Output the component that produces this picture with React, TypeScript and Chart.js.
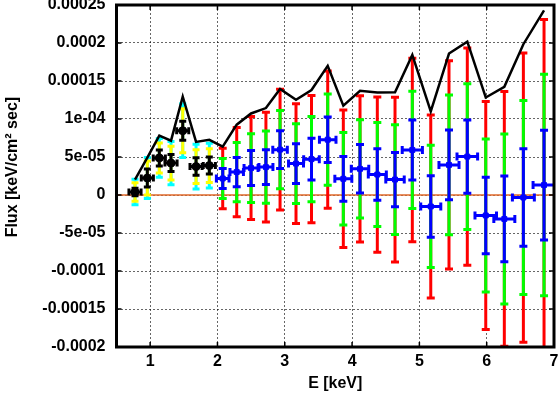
import React, { useEffect, useRef } from 'react';
import { Chart, registerables } from 'chart.js';
Chart.register(...registerables);

// ---- data (flux in keV/cm^2/sec, energies in keV) ----
const blackE = [0.775, 0.958, 1.136, 1.31, 1.484, 1.682, 1.879];
const blackXErr = [0.09, 0.09, 0.09, 0.09, 0.09, 0.09, 0.09];
const blackFlux = [0.39e-5, 2.23e-5, 4.88e-5, 4.2e-5, 8.46e-5, 3.74e-5, 3.87e-5];
const blackErr1 = [0.49e-5, 1.18e-5, 1.05e-5, 1.12e-5, 1.25e-5, 1.15e-5, 1.12e-5];
const yellowErr2 = [1.21e-5, 2.23e-5, 1.97e-5, 2.23e-5, 2.89e-5, 2.23e-5, 2.23e-5];
const cyanErr3 = [1.68e-5, 2.69e-5, 2.56e-5, 2.85e-5, 3.54e-5, 2.95e-5, 2.95e-5];

const blueE = [2.078, 2.286, 2.499, 2.72, 2.93, 3.167, 3.397, 3.638, 3.87, 4.118, 4.375, 4.638, 4.895, 5.169, 5.44, 5.712, 5.986, 6.262, 6.545, 6.852];
const blueXErr = [0.094, 0.1, 0.104, 0.104, 0.108, 0.111, 0.116, 0.123, 0.126, 0.13, 0.134, 0.137, 0.15, 0.149, 0.149, 0.153, 0.16, 0.156, 0.163, 0.163];
const blueFlux = [2.17e-5, 3.02e-5, 3.54e-5, 3.67e-5, 5.97e-5, 4.13e-5, 4.72e-5, 7.28e-5, 2.13e-5, 3.44e-5, 2.69e-5, 2.03e-5, 5.93e-5, -1.51e-5, 3.96e-5, 5.05e-5, -2.69e-5, -3.15e-5, -0.33e-5, 1.31e-5];
const blueErr1 = [1.31e-5, 1.93e-5, 2.3e-5, 2.3e-5, 2.47e-5, 2.62e-5, 2.76e-5, 2.99e-5, 2.95e-5, 3.19e-5, 3.39e-5, 3.57e-5, 3.94e-5, 4.04e-5, 4.59e-5, 4.82e-5, 5.03e-5, 5.64e-5, 6.4e-5, 7.22e-5];
const greenErr2 = [2.62e-5, 3.9e-5, 4.53e-5, 4.76e-5, 5.14e-5, 5.25e-5, 5.6e-5, 6.01e-5, 6.08e-5, 6.46e-5, 6.85e-5, 7.22e-5, 7.72e-5, 8.04e-5, 9.19e-5, 9.58e-5, 10.07e-5, 11.19e-5, 12.77e-5, 14.57e-5];
const redErr3 = [3.98e-5, 5.87e-5, 6.78e-5, 7.22e-5, 7.94e-5, 7.87e-5, 8.36e-5, 9.02e-5, 9.05e-5, 9.62e-5, 10.21e-5, 10.83e-5, 12.07e-5, 12.03e-5, 13.71e-5, 14.28e-5, 15.0e-5, 16.76e-5, 19.03e-5, 21.78e-5];

const limitE = [...blackE, ...blueE];
const limitFlux = [2.03e-5, 4.92e-5, 7.81e-5, 7.15e-5, 12.93e-5, 6.98e-5, 7.26e-5,
  6.36e-5, 9.25e-5, 10.73e-5, 11.44e-5, 13.94e-5, 12.53e-5, 13.81e-5, 16.99e-5, 11.75e-5, 13.71e-5, 13.49e-5, 13.52e-5, 18.44e-5, 11.0e-5, 18.61e-5, 20.18e-5, 12.83e-5, 14.24e-5, 19.84e-5, 24.3e-5];

const xTickValues = [1, 2, 3, 4, 5, 6, 7];
const yTickValues = [0.00025, 0.0002, 0.00015, 0.0001, 0.00005, 0, -0.00005, -0.0001, -0.00015, -0.0002];
const yTickLabels = ['0.00025', '0.0002', '0.00015', '1e-04', '5e-05', '0', '-5e-05', '-0.0001', '-0.00015', '-0.0002'];

const FONT = "'Liberation Sans', Arial, Helvetica, sans-serif";

function drawV(ctx: CanvasRenderingContext2D, xs: any, ys: any, E: number[], v: number[], e: number[], color: string, lw: number, cap: number) {
  ctx.strokeStyle = color;
  ctx.lineWidth = lw;
  ctx.lineCap = 'butt';
  for (let i = 0; i < E.length; i++) {
    const px = xs.getPixelForValue(E[i]);
    const t = ys.getPixelForValue(v[i] + e[i]);
    const b = ys.getPixelForValue(v[i] - e[i]);
    ctx.beginPath();
    ctx.moveTo(px, t); ctx.lineTo(px, b);
    ctx.moveTo(px - cap, t); ctx.lineTo(px + cap, t);
    ctx.moveTo(px - cap, b); ctx.lineTo(px + cap, b);
    ctx.stroke();
  }
}

function drawH(ctx: CanvasRenderingContext2D, xs: any, ys: any, E: number[], v: number[], xe: number[], color: string, lw: number, cap: number) {
  ctx.strokeStyle = color;
  ctx.lineWidth = lw;
  for (let i = 0; i < E.length; i++) {
    const py = ys.getPixelForValue(v[i]);
    const l = xs.getPixelForValue(E[i] - xe[i]);
    const r = xs.getPixelForValue(E[i] + xe[i]);
    ctx.beginPath();
    ctx.moveTo(l, py); ctx.lineTo(r, py);
    ctx.moveTo(l, py - cap); ctx.lineTo(l, py + cap);
    ctx.moveTo(r, py - cap); ctx.lineTo(r, py + cap);
    ctx.stroke();
  }
}

const errorPlugin = {
  id: 'errbars',
  beforeDatasetsDraw(chart: any) {
    const { ctx, chartArea: a, scales } = chart;
    const xs = scales.x, ys = scales.y;
    ctx.save();
    ctx.beginPath();
    ctx.rect(a.left, a.top, a.right - a.left, a.bottom - a.top);
    ctx.clip();
    // zero line
    const y0 = ys.getPixelForValue(0);
    ctx.strokeStyle = '#e0692a';
    ctx.lineWidth = 1.5;
    ctx.beginPath();
    ctx.moveTo(a.left, y0); ctx.lineTo(a.right, y0);
    ctx.stroke();
    // early (black) group
    drawV(ctx, xs, ys, blackE, blackFlux, cyanErr3, '#00ffff', 3, 3.5);
    drawV(ctx, xs, ys, blackE, blackFlux, yellowErr2, '#ffff00', 3, 3.5);
    drawV(ctx, xs, ys, blackE, blackFlux, blackErr1, '#000000', 3, 3.5);
    drawH(ctx, xs, ys, blackE, blackFlux, blackXErr, '#000000', 3, 3.5);
    // late (blue) group
    drawV(ctx, xs, ys, blueE, blueFlux, redErr3, '#ff0000', 3, 4);
    drawV(ctx, xs, ys, blueE, blueFlux, greenErr2, '#00ff00', 3, 4);
    drawV(ctx, xs, ys, blueE, blueFlux, blueErr1, '#0000ff', 3, 4);
    drawH(ctx, xs, ys, blueE, blueFlux, blueXErr, '#0000ff', 3, 4);
    ctx.restore();
  },
  afterDraw(chart: any) {
    const { ctx, chartArea: a, scales } = chart;
    const xs = scales.x, ys = scales.y;
    ctx.save();
    ctx.strokeStyle = '#000';
    ctx.lineWidth = 1.5;
    const tl = 5;
    ctx.beginPath();
    for (const t of xTickValues) {
      const px = xs.getPixelForValue(t);
      ctx.moveTo(px, a.bottom); ctx.lineTo(px, a.bottom - tl);
      ctx.moveTo(px, a.top); ctx.lineTo(px, a.top + tl);
    }
    for (const t of yTickValues) {
      const py = ys.getPixelForValue(t);
      ctx.moveTo(a.left, py); ctx.lineTo(a.left + tl, py);
      ctx.moveTo(a.right, py); ctx.lineTo(a.right - tl, py);
    }
    ctx.stroke();
    ctx.lineWidth = 3;
    ctx.strokeRect(a.left, a.top, a.right - a.left, a.bottom - a.top);
    ctx.restore();
  },
};

const zeroPad = (s: any) => {
  s.paddingTop = 0; s.paddingBottom = 0; s.paddingLeft = 0; s.paddingRight = 0;
};

export default function App() {
  const ref = useRef<HTMLCanvasElement>(null);
  useEffect(() => {
    if (!ref.current) return;
    const chart = new Chart(ref.current, {
      type: 'scatter',
      data: {
        datasets: [
          {
            type: 'line',
            data: limitE.map((e, i) => ({ x: e, y: limitFlux[i] })),
            borderColor: '#000',
            borderWidth: 2.5,
            pointRadius: 0,
            fill: false,
            tension: 0,
          } as any,
          {
            data: blueE.map((e, i) => ({ x: e, y: blueFlux[i] })),
            pointStyle: 'rect',
            pointRadius: 3.5,
            backgroundColor: '#0000ff',
            borderColor: '#0000ff',
            borderWidth: 1,
          },
          {
            data: blackE.map((e, i) => ({ x: e, y: blackFlux[i] })),
            pointStyle: 'circle',
            pointRadius: 4,
            backgroundColor: '#000',
            borderColor: '#000',
            borderWidth: 1,
          },
        ],
      },
      options: {
        responsive: false,
        animation: false,
        events: [],
        layout: { padding: { top: 4, right: 6, left: 0, bottom: 0 } },
        plugins: { legend: { display: false }, tooltip: { enabled: false } },
        scales: {
          x: {
            type: 'linear',
            min: 0.5,
            max: 7,
            afterBuildTicks: (s: any) => { s.ticks = xTickValues.map((v) => ({ value: v })); },
            afterFit: (s: any) => { s.height = 51; zeroPad(s); },
            grid: { color: 'rgba(0,0,0,0.6)', lineWidth: 1, drawTicks: false },
            border: { display: false, dash: [2, 2] },
            ticks: { color: '#000', font: { family: FONT, size: 16, weight: 'bold' }, padding: 5, maxRotation: 0 },
            title: { display: true, text: 'E [keV]', color: '#000', font: { family: FONT, size: 16, weight: 'bold' }, padding: { top: 0, bottom: 5 } },
          },
          y: {
            type: 'linear',
            min: -0.0002,
            max: 0.00025,
            afterBuildTicks: (s: any) => { s.ticks = yTickValues.map((v) => ({ value: v })); },
            afterFit: (s: any) => { s.width = 116.5; zeroPad(s); },
            grid: { color: 'rgba(0,0,0,0.6)', lineWidth: 1, drawTicks: false },
            border: { display: false, dash: [2, 2] },
            ticks: {
              color: '#000',
              font: { family: FONT, size: 16, weight: 'bold' },
              padding: 11,
              callback: (_v: any, i: number) => yTickLabels[i],
            },
            title: { display: true, text: '    Flux [keV/cm² sec]', color: '#000', font: { family: FONT, size: 16, weight: 'bold' }, padding: { top: 3, bottom: 0 } },
          },
        },
      },
      plugins: [errorPlugin],
    });
    return () => chart.destroy();
  }, []);
  return (
    <div style={{ position: 'absolute', left: 0, top: 0, width: 560, height: 398, background: '#fff' }}>
      <canvas ref={ref} width={560} height={398} style={{ display: 'block', width: 560, height: 398 }} />
    </div>
  );
}
